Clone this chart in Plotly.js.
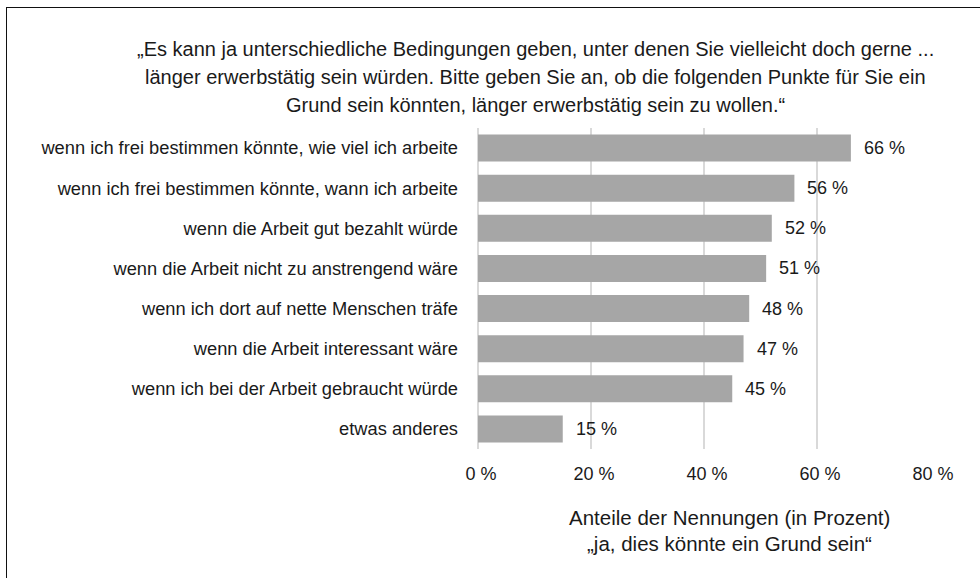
<!DOCTYPE html>
<html>
<head>
<meta charset="utf-8">
<script src="https://cdn.plot.ly/plotly-3.0.1.min.js"></script>
<style>
  html, body { margin: 0; padding: 0; background: #fff; }
  #wrap { position: relative; width: 980px; height: 578px; overflow: hidden; }
  #chart { width: 980px; height: 578px; }
  #frame { position: absolute; left: 6px; top: 7px; width: 1000px; height: 600px;
           border-left: 1px solid #111; border-top: 1px solid #111; pointer-events: none; }
</style>
</head>
<body>
<div id="wrap">
  <div id="chart"></div>
  <div id="frame"></div>
</div>
<script>
const categories = [
  "wenn ich frei bestimmen könnte, wie viel ich arbeite",
  "wenn ich frei bestimmen könnte, wann ich arbeite",
  "wenn die Arbeit gut bezahlt würde",
  "wenn die Arbeit nicht zu anstrengend wäre",
  "wenn ich dort auf nette Menschen träfe",
  "wenn die Arbeit interessant wäre",
  "wenn ich bei der Arbeit gebraucht würde",
  "etwas anderes"
];
const values = [66, 56, 52, 51, 48, 47, 45, 15];
const tickVals = [0, 20, 40, 60, 80];
const tickLabels = ["0 %", "20 %", "40 %", "60 %", "80 %"];
const titleLines = [
  "„Es kann ja unterschiedliche Bedingungen geben, unter denen Sie vielleicht doch gerne ...",
  "länger erwerbstätig sein würden. Bitte geben Sie an, ob die folgenden Punkte für Sie ein",
  "Grund sein könnten, länger erwerbstätig sein zu wollen.“"
];
const axisTitleLines = [
  "Anteile der Nennungen (in Prozent)",
  "„ja, dies könnte ein Grund sein“"
];

const FONT = "Liberation Sans, Arial, Helvetica, sans-serif";
const TXT = "#1a1a1a";

const trace = {
  type: "bar",
  orientation: "h",
  x: values,
  y: categories,
  marker: { color: "#a6a6a6", line: { width: 0 } },
  hoverinfo: "x+y"
};

const annotations = [];
values.forEach((v, i) => {
  annotations.push({
    x: v, y: categories[i], xref: "x", yref: "y",
    text: v + " %", showarrow: false, xanchor: "left", yanchor: "middle",
    xshift: 11, font: { family: FONT, size: 18, color: TXT }
  });
});
const titleY = [49, 77, 105];
titleLines.forEach((t, i) => {
  annotations.push({
    x: 0.5, y: 1, xref: "paper", yref: "paper",
    text: t, showarrow: false, xanchor: "center", yanchor: "middle",
    xshift: 535 - 704, yshift: 128 - titleY[i],
    font: { family: FONT, size: 20, color: TXT }
  });
});
const axY = [517, 543];
axisTitleLines.forEach((t, i) => {
  annotations.push({
    x: 0.5, y: 0, xref: "paper", yref: "paper",
    text: t, showarrow: false, xanchor: "center", yanchor: "middle",
    xshift: 729 - 704, yshift: 449 - axY[i],
    font: { family: FONT, size: 20.5, color: TXT }
  });
});

const layout = {
  width: 980, height: 578,
  margin: { l: 478, r: 50, t: 128, b: 129, pad: 0 },
  paper_bgcolor: "#fff",
  plot_bgcolor: "#fff",
  showlegend: false,
  bargap: 0.325,
  font: { family: FONT, size: 18, color: TXT },
  xaxis: {
    range: [0, 80],
    tickvals: tickVals,
    ticktext: tickLabels,
    showgrid: true,
    gridcolor: "#d9d9d9",
    gridwidth: 1.3,
    zeroline: true,
    zerolinecolor: "#d9d9d9",
    zerolinewidth: 1.3,
    showline: false,
    ticks: "",
    ticklabelstandoff: 12,
    ticklabelshift: 3,
    tickfont: { family: FONT, size: 18, color: TXT },
    fixedrange: true
  },
  yaxis: {
    autorange: "reversed",
    showgrid: false,
    zeroline: false,
    showline: false,
    ticks: "",
    ticklabelstandoff: 19,
    tickfont: { family: FONT, size: 18.3, color: TXT },
    fixedrange: true
  },
  annotations: annotations
};

Plotly.newPlot("chart", [trace], layout, { displayModeBar: false, staticPlot: true });
</script>
</body>
</html>
